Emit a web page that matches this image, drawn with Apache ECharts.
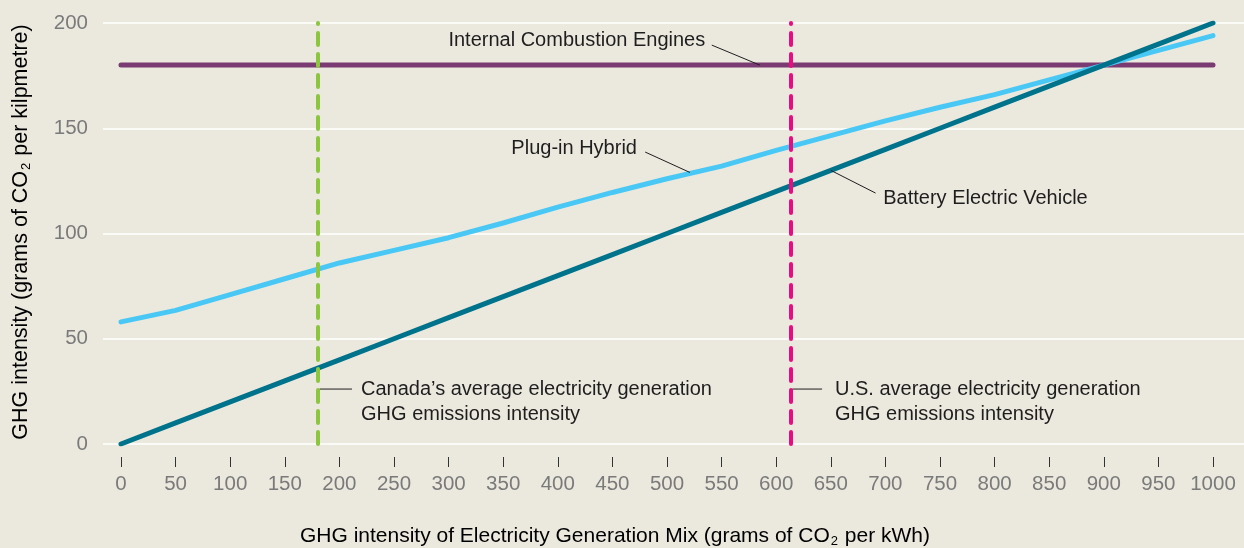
<!DOCTYPE html>
<html><head><meta charset="utf-8">
<script src="https://cdn.jsdelivr.net/npm/echarts@6/dist/echarts.min.js"></script>
<style>html,body{margin:0;padding:0;background:#ebe9de}#c{width:1244px;height:548px}</style>
</head><body><div id="c"></div>
<script>
const xValues   = [0,50,100,150,200,250,300,350,400,450,500,550,600,650,700,750,800,850,900,950,1000];
const iceValues = [180,180,180,180,180,180,180,180,180,180,180,180,180,180,180,180,180,180,180,180,180];
const bevValues = [0,10,20,30,40,50,60,70,80,90,100,110,120,130,140,150,160,170,180,190,200];
const phevValues= [58,63.5,71,78.5,86,92,98,105,112.5,119.5,126,132,139.5,146.5,153.5,160,166,173,180,187,194];
const canadaX = 180;
const usX = 613;
const yTickLabels = ['0','50','100','150','200'];
const xTickLabels = xValues.map(String);

const FONT = '"Liberation Sans", Arial, sans-serif';
const pairs = v => xValues.map((x,i)=>[x,v[i]]);

const chart = echarts.init(document.getElementById('c'), null, {renderer:'canvas'});
chart.setOption({
  backgroundColor:'#ebe9de',
  animation:false,
  textStyle:{fontFamily:FONT},
  grid:[
    {left:103,right:0,top:23,bottom:104},
    {left:121,right:31,top:23,bottom:104},
    {left:121,right:31,top:36,bottom:91}
  ],
  xAxis:[
    {gridIndex:0,type:'value',min:0,max:1000,show:false},
    {gridIndex:1,type:'value',min:0,max:1000,show:false},
    {gridIndex:2,type:'value',min:0,max:1000,interval:50,
     axisLine:{show:false},
     axisTick:{show:true,length:10,lineStyle:{color:'#333',width:1}},
     axisLabel:{margin:17,fontSize:20.5,color:'#7a7a7a',fontFamily:FONT,
       formatter:v=>xTickLabels[xValues.indexOf(v)] ?? ''},
     splitLine:{show:false}}
  ],
  yAxis:[
    {gridIndex:0,type:'value',min:0,max:200,interval:50,
     axisLine:{show:false},axisTick:{show:false},
     axisLabel:{margin:15,fontSize:20.5,color:'#7a7a7a',fontFamily:FONT,
       formatter:v=>yTickLabels[v/50]},
     splitLine:{show:true,lineStyle:{color:'#ffffff',width:1.5}}},
    {gridIndex:1,type:'value',min:0,max:200,show:false,splitLine:{show:false}},
    {gridIndex:2,type:'value',min:0,max:200,show:false,splitLine:{show:false}}
  ],
  series:[
    {type:'line',xAxisIndex:1,yAxisIndex:1,data:pairs(iceValues),showSymbol:false,symbol:'none',
     lineStyle:{color:'#7a3b72',width:5,cap:'round'},z:2},
    {type:'line',xAxisIndex:1,yAxisIndex:1,data:pairs(phevValues),showSymbol:false,symbol:'none',
     lineStyle:{color:'#4ac8f5',width:5,cap:'round'},z:3},
    {type:'line',xAxisIndex:1,yAxisIndex:1,data:pairs(bevValues),showSymbol:false,symbol:'none',
     lineStyle:{color:'#00738c',width:5,cap:'round'},z:4,
     markLine:{silent:true,symbol:['none','none'],label:{show:false},z:10,
       data:[
         {xAxis:canadaX,lineStyle:{color:'#8cc63f',width:4,type:[12,9],cap:'round'}},
         {xAxis:usX,lineStyle:{color:'#ec0a82',width:4,type:[12,9],cap:'round'}}
       ]}}
  ]
});

const annotations = [
  {text:'Internal Combustion Engines', at:[535,191.5], align:'right', leader:[[541,189.5],[585,180]]},
  {text:'Plug-in Hybrid', at:[472.5,140.4], align:'right', leader:[[480,138.7],[521,129]]},
  {text:'Battery Electric Vehicle', at:[698,116.7], align:'left', leader:[[691,119.2],[650,130]]},
  {text:'Canada\u2019s average electricity generation\nGHG emissions intensity', at:[219.8,25.9], align:'left', leader:[[182,26.1],[211.5,26.1]]},
  {text:'U.S. average electricity generation\nGHG emissions intensity', at:[653.8,25.9], align:'left', leader:[[615,26.1],[642,26.1]]}
];
const P = p => chart.convertToPixel({xAxisIndex:1,yAxisIndex:1}, p);
const graphics = [];
annotations.forEach(a=>{
  const p = P(a.at);
  graphics.push({type:'text',x:p[0],y:p[1]-12.5,z:20,
    style:{text:a.text,fill:'#1e1e1e',font:'20px '+FONT,lineHeight:25,align:a.align,verticalAlign:'top'}});
  const l0 = P(a.leader[0]), l1 = P(a.leader[1]);
  graphics.push({type:'line',z:20,shape:{x1:l0[0],y1:l0[1],x2:l1[0],y2:l1[1]},style:{stroke:'#1e1e1e',lineWidth:1}});
});
const mkRich = fs => ({n:{fontSize:fs,fontFamily:FONT,color:'#1e1e1e'},
              s:{fontSize:13,fontFamily:FONT,color:'#1e1e1e',padding:[10,1,0,1]}});
graphics.push({type:'text',x:21,y:232,rotation:Math.PI/2,z:20,
  style:{text:'{n|GHG intensity (grams of CO}{s|2}{n| per kilpmetre)}',align:'center',verticalAlign:'middle',rich:mkRich(21.5)}});
graphics.push({type:'text',x:615,y:536,z:20,
  style:{text:'{n|GHG intensity of Electricity Generation Mix (grams of CO}{s|2}{n| per kWh)}',align:'center',verticalAlign:'middle',rich:mkRich(21)}});
chart.setOption({graphic:graphics});
</script>
</body></html>
